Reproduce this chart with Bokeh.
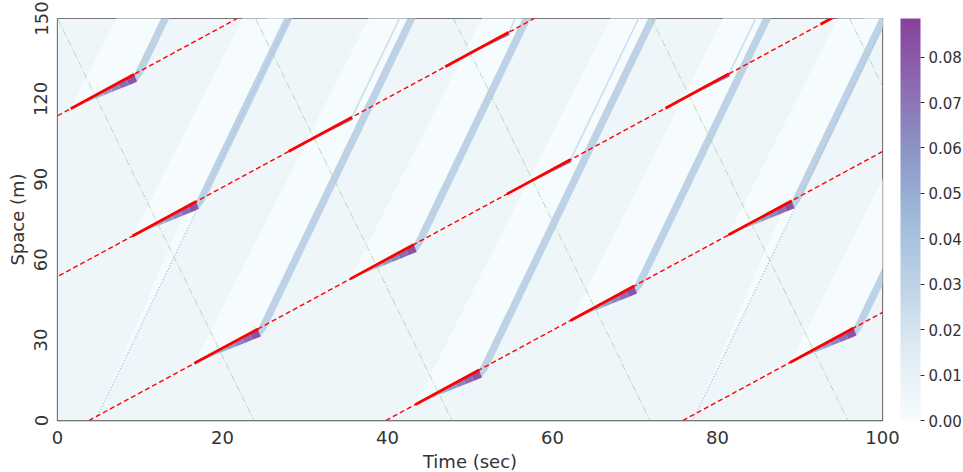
import numpy as np
from bokeh.plotting import figure
from bokeh.models import (ColumnDataSource, LinearColorMapper, ColorBar, FixedTicker,
                          PrintfTickFormatter, Range1d)
from bokeh.transform import transform
from bokeh.embed import file_html
from bokeh.resources import INLINE

# ---------------- values ----------------
time_range = [0, 100]
space_range = [0, 150]
x_ticks = [0, 20, 40, 60, 80, 100]
y_ticks = [0, 30, 60, 90, 120, 150]
cbar_ticks = [0.00, 0.01, 0.02, 0.03, 0.04, 0.05, 0.06, 0.07, 0.08]
density_max = 0.0885

# slow-vehicle trajectories (red dashed): s = speed * (t - t0)
bottleneck_speed = 1.667
bottleneck_t0 = [-68.2, -32.2, 3.8, 39.8, 75.8]

# queue events along the trajectories (red solid + purple wedge)
event_line = [0, 1, 2, 1, 2, 3, 1, 2, 3, 2, 3, 4, 2]
event_t = [1.6, 9.1, 16.6, 28.0, 35.5, 43.4, 47.0, 54.5, 62.2, 73.7, 81.3, 88.8, 92.5]
event_kind = ["p", "p", "p", "s", "p", "p", "s", "s", "p", "s", "p", "p", "s"]
event_duration = 7.7

# platoons / waves
platoon_speed = 6.4
gap_edge_speed = 6.1
strip_edge_speed = 7.2
wave_speed = -6.3
wave_t_top = [-24.0, 0.0, 24.0, 48.0, 72.0, 96.0]
dotted_t0 = [4.6, 77.0]

# density levels (veh/m)
density_free = 0.006
density_gap = 0.001
density_platoon = 0.030
density_trail = 0.024
density_queue_lo = 0.018
density_queue_hi = 0.086

# ---------------- colour map (BuPu) ----------------
stops = ["#f7fcfd", "#e0ecf4", "#bfd3e6", "#9ebcda", "#8c96c6", "#8c6bb1", "#88419d"]
rgb = np.array([[int(c[i:i + 2], 16) for i in (1, 3, 5)] for c in stops], float)
pos = np.linspace(0, 1, len(stops))
f = np.linspace(0, 1, 256)
pal = ["#%02x%02x%02x" % tuple(int(round(np.interp(v, pos, rgb[:, k]))) for k in range(3)) for v in f]
mapper = LinearColorMapper(palette=pal, low=0.0, high=density_max)

S_TOP = 170.0

# ---------------- geometry derived from the values ----------------
xs, ys, vals = [], [], []


def add(px, py, v):
    xs.append(list(px)); ys.append(list(py)); vals.append(v)


# free-flow background
add([time_range[0], time_range[1], time_range[1], time_range[0]],
    [space_range[0], space_range[0], space_range[1], space_range[1]], density_free)

ev = []
for li, t, k in zip(event_line, event_t, event_kind):
    t0 = bottleneck_t0[li]
    sA = bottleneck_speed * (t - t0)
    tB = t + event_duration
    sB = bottleneck_speed * (tB - t0)
    ev.append((t, sA, tB, sB, k))

# low-density strips left of the dotted lines
for t0 in dotted_t0:
    add([t0, t0 + S_TOP / platoon_speed, t0 + S_TOP / strip_edge_speed],
        [0, S_TOP, S_TOP], density_gap)

# low-density gaps behind primary queues
for tA, sA, tB, sB, k in ev:
    if k == "p":
        add([tA, tB, tB + (S_TOP - sB) / platoon_speed, tA + (S_TOP - sA) / gap_edge_speed],
            [sA, sB, S_TOP, S_TOP], density_gap)

# discharged platoons
band_w = 1.0
for tA, sA, tB, sB, k in ev:
    if k == "p":
        cx, cy = tB + 0.35, sB - 2.6
        add([tB, cx, tB + band_w, tB + band_w + (S_TOP - sB) / platoon_speed, tB + (S_TOP - sB) / platoon_speed],
            [sB, cy, sB, S_TOP, S_TOP], density_platoon)

# queue wedges (gradient)
nseg = 8
for tA, sA, tB, sB, k in ev:
    if k == "p":
        cx, cy = tB + 0.35, sB - 2.8
        hi = density_queue_hi
    else:
        cx, cy = tB + 0.1, sB - 1.0
        hi = 0.07
    for i in range(nseg):
        f0, f1 = i / nseg, (i + 1) / nseg
        add([tA + (tB - tA) * f0, tA + (tB - tA) * f1, tA + (cx - tA) * f1, tA + (cx - tA) * f0],
            [sA + (sB - sA) * f0, sA + (sB - sA) * f1, sA + (cy - sA) * f1, sA + (cy - sA) * f0],
            density_queue_lo + (hi - density_queue_lo) * (f0 + f1) / 2)

src = ColumnDataSource(dict(xs=xs, ys=ys, val=vals))

p = figure(frame_width=825, frame_height=402, output_backend="svg", toolbar_location=None,
           x_range=Range1d(*time_range), y_range=Range1d(*space_range),
           min_border_left=57, min_border_top=18, min_border_bottom=52, min_border_right=0)
p.patches("xs", "ys", source=src, fill_color=transform("val", mapper), line_color=None)

# secondary queue trails
sec = [e for e in ev if e[4] == "s"]
p.segment(x0=[e[2] for e in sec], y0=[e[3] for e in sec],
          x1=[e[2] + (S_TOP - e[3]) / platoon_speed for e in sec], y1=[S_TOP] * len(sec),
          line_color=pal[int(density_trail / density_max * 255)], line_width=1.5)

# dotted lines
p.segment(x0=dotted_t0, y0=[0] * len(dotted_t0),
          x1=[t + S_TOP / platoon_speed for t in dotted_t0], y1=[S_TOP] * len(dotted_t0),
          line_color="#9ebcda", line_width=1.3, line_dash="1 2")

# backward waves (green dash-dot)
p.segment(x0=wave_t_top, y0=[space_range[1]] * len(wave_t_top),
          x1=[t - space_range[1] / wave_speed for t in wave_t_top], y1=[0] * len(wave_t_top),
          line_color="#a9d3a0", line_width=1.0, line_dash="7 2 1 2", line_alpha=0.8)

# slow vehicle trajectories (red dashed)
p.segment(x0=bottleneck_t0, y0=[0] * len(bottleneck_t0),
          x1=[t + S_TOP / bottleneck_speed for t in bottleneck_t0], y1=[S_TOP] * len(bottleneck_t0),
          line_color="red", line_width=1.4, line_dash="5 3")

# queued segments (red solid)
p.segment(x0=[e[0] for e in ev], y0=[e[1] for e in ev], x1=[e[2] for e in ev], y1=[e[3] for e in ev],
          line_color="red", line_width=2.8)

# axes styling
p.xaxis.ticker = FixedTicker(ticks=x_ticks)
p.yaxis.ticker = FixedTicker(ticks=y_ticks)
p.xaxis.axis_label = "Time (sec)"
p.yaxis.axis_label = "Space (m)"
p.yaxis.major_label_orientation = "vertical"
for ax in (p.xaxis[0], p.yaxis[0]):
    ax.axis_line_color = None
    ax.major_tick_line_color = None
    ax.minor_tick_line_color = None
    ax.major_label_text_font = "DejaVu Sans"
    ax.major_label_text_font_size = "18px"
    ax.major_label_text_color = "#333333"
    ax.axis_label_text_font = "DejaVu Sans"
    ax.axis_label_text_font_size = "18px"
    ax.axis_label_text_font_style = "normal"
    ax.axis_label_text_color = "#333333"
    ax.major_label_standoff = 4
    ax.axis_label_standoff = 4
p.xgrid.grid_line_color = None
p.ygrid.grid_line_color = None
p.outline_line_color = "#4d4d4d"
p.outline_line_width = 1.25
p.background_fill_color = "white"

cb = ColorBar(color_mapper=mapper, ticker=FixedTicker(ticks=cbar_ticks),
              formatter=PrintfTickFormatter(format="%.2f"),
              width=20, height=402, padding=0, margin=0, location=(18, 0), label_standoff=4,
              major_tick_out=4, major_tick_in=0, major_tick_line_color="#333333",
              minor_tick_line_color=None, bar_line_color=None,
              major_label_text_font="DejaVu Sans", major_label_text_font_size="15px",
              major_label_text_color="#333333", background_fill_color=None, border_line_color=None)
p.add_layout(cb, "right")

open("out.html", "w").write(file_html(p, INLINE))
